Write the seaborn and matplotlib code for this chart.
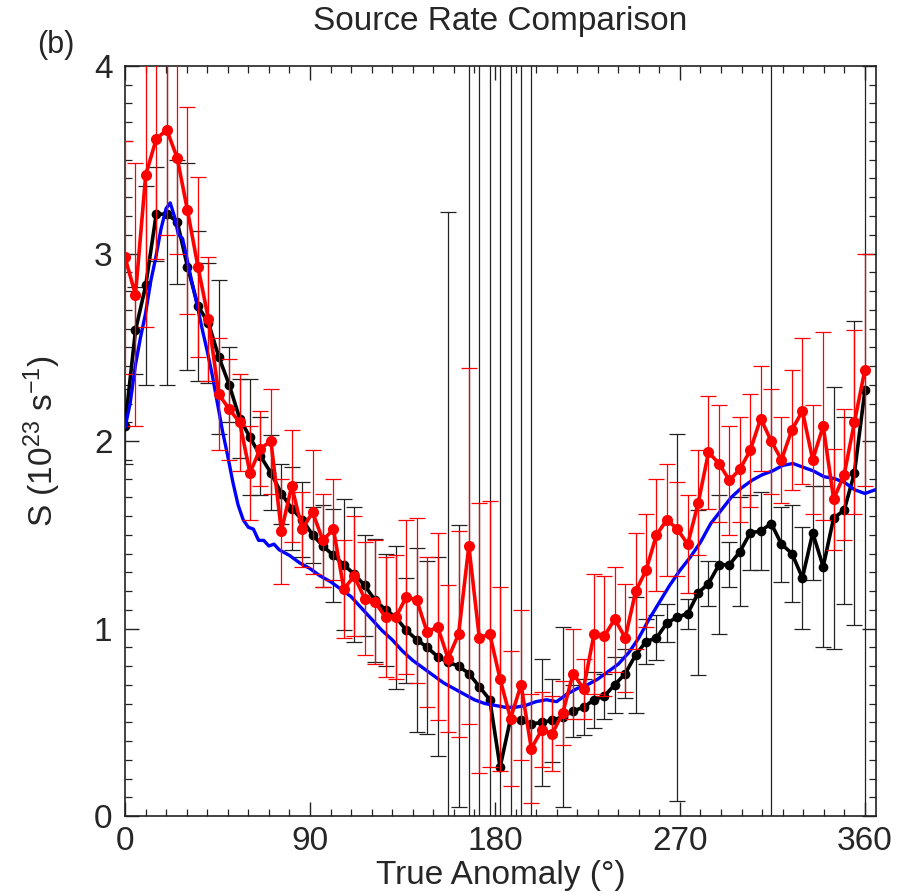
import numpy as np
import pandas as pd
import matplotlib
matplotlib.use("Agg")
import matplotlib.pyplot as plt
from matplotlib.ticker import MultipleLocator
import seaborn as sns

# ---------------- data ----------------
anomaly = [0.0, 5.1, 10.1, 15.2, 20.3, 25.4, 30.4, 35.5, 40.6, 45.6, 50.7, 55.8,
           60.8, 65.9, 71.0, 76.1, 81.1, 86.2, 91.3, 96.3, 101.4, 106.5, 111.5, 116.6,
           121.7, 126.8, 131.8, 136.9, 142.0, 147.0, 152.1, 157.2, 162.3, 167.3, 172.4, 177.5,
           182.5, 187.6, 192.7, 197.7, 202.8, 207.9, 213.0, 218.0, 223.1, 228.2, 233.2, 238.3,
           243.4, 248.5, 253.5, 258.6, 263.7, 268.7, 273.8, 278.9, 283.9, 289.0, 294.1, 299.2,
           304.2, 309.3, 314.4, 319.4, 324.5, 329.6, 334.6, 339.7, 344.8, 349.9, 354.9, 360.0]

black_s = [2.08, 2.59, 2.83, 3.21, 3.21, 3.17, 2.93, 2.72, 2.63, 2.45, 2.30, 2.12,
           2.02, 1.92, 1.83, 1.72, 1.64, 1.58, 1.50, 1.44, 1.39, 1.34, 1.29, 1.23,
           1.15, 1.10, 1.06, 0.99, 0.94, 0.90, 0.85, 0.82, 0.80, 0.76, 0.69, 0.62,
           0.26, 0.52, 0.51, 0.49, 0.50, 0.51, 0.53, 0.56, 0.58, 0.62, 0.64, 0.70,
           0.76, 0.86, 0.93, 0.95, 1.03, 1.06, 1.08, 1.19, 1.24, 1.34, 1.34, 1.41,
           1.51, 1.52, 1.56, 1.45, 1.40, 1.27, 1.51, 1.33, 1.59, 1.63, 1.83, 2.27]

black_err = [0.20, 0.23, 0.53, 0.25, 0.91, 0.33, 0.55, 0.40, 0.32, 0.41, 0.20, 0.21,
             0.31, 0.21, 0.20, 0.16, 0.22, 0.20, 0.15, 0.22, 0.25, 0.35, 0.36, 0.27,
             0.33, 0.30, 0.38, 0.28, 0.49, 0.46, 0.53, 2.40, 0.75, 5.00, 5.00, 5.00,
             5.00, 5.00, 5.00, 5.00, 0.34, 0.22, 0.48, 0.14, 0.15, 0.15, 0.12, 0.15,
             0.13, 0.31, 0.12, 0.12, 0.10, 0.98, 0.08, 0.44, 0.12, 0.37, 0.12, 0.29,
             0.20, 0.21, 5.00, 0.20, 0.26, 0.27, 0.25, 0.43, 0.70, 0.50, 0.81, 5.00]

red_s = [2.98, 2.78, 3.42, 3.61, 3.66, 3.51, 3.23, 2.93, 2.65, 2.25, 2.17, 2.10,
         1.83, 1.96, 2.00, 1.52, 1.76, 1.53, 1.62, 1.47, 1.53, 1.21, 1.28, 1.16,
         1.14, 1.06, 1.06, 1.17, 1.15, 0.98, 1.01, 0.84, 0.97, 1.44, 0.95, 0.97,
         0.73, 0.52, 0.70, 0.36, 0.46, 0.44, 0.55, 0.76, 0.68, 0.97, 0.96, 1.05,
         0.95, 1.20, 1.31, 1.50, 1.58, 1.53, 1.45, 1.67, 1.94, 1.88, 1.79, 1.85,
         1.95, 2.12, 2.00, 1.90, 2.06, 2.16, 1.90, 2.08, 1.69, 1.82, 2.10, 2.38]

red_err = [0.62, 0.70, 0.81, 0.64, 0.56, 0.51, 0.55, 0.48, 0.33, 0.30, 0.27, 0.26,
           0.25, 0.20, 0.28, 0.28, 0.30, 0.20, 0.33, 0.25, 0.27, 0.26, 0.32, 0.30,
           0.33, 0.32, 0.33, 0.41, 0.44, 0.40, 0.50, 0.39, 0.55, 0.95, 0.72, 0.71,
           0.49, 0.36, 0.40, 0.29, 0.20, 0.20, 0.17, 0.24, 0.16, 0.32, 0.32, 0.28,
           0.29, 0.31, 0.30, 0.30, 0.30, 0.25, 0.26, 0.28, 0.30, 0.31, 0.29, 0.28,
           0.30, 0.28, 0.28, 0.23, 0.32, 0.39, 0.29, 0.50, 0.27, 0.35, 0.49, 0.62]

model_anomaly = [0, 2.5, 5, 7.5, 10, 12.5, 15, 17.5, 20, 22, 24, 26, 28, 30, 32.5, 35,
                 37.5, 40, 42.5, 45, 47.5, 50, 52.5, 55, 57.5, 60, 62.5, 65, 67.5, 70,
                 72.5, 75, 80, 85, 90, 95, 100, 105, 110, 115, 120, 125, 130, 135, 140,
                 145, 150, 155, 160, 165, 170, 175, 180, 185, 190, 195, 200, 205, 210,
                 215, 220, 225, 230, 235, 240, 245, 250, 255, 260, 265, 270, 275, 280,
                 285, 290, 295, 300, 305, 310, 315, 320, 325, 330, 335, 340, 345, 350,
                 355, 360, 365]
model_s = [2.07, 2.20, 2.40, 2.55, 2.68, 2.85, 2.98, 3.13, 3.24, 3.27, 3.20, 3.10,
           3.08, 2.98, 2.85, 2.73, 2.60, 2.48, 2.35, 2.20, 2.05, 1.92, 1.78, 1.66,
           1.58, 1.54, 1.53, 1.47, 1.47, 1.44, 1.45, 1.42, 1.39, 1.35, 1.32, 1.28,
           1.25, 1.21, 1.17, 1.11, 1.05, 0.99, 0.94, 0.88, 0.83, 0.79, 0.75, 0.71,
           0.68, 0.65, 0.62, 0.60, 0.59, 0.58, 0.58, 0.59, 0.61, 0.62, 0.61, 0.65,
           0.68, 0.70, 0.73, 0.77, 0.81, 0.87, 0.95, 1.05, 1.14, 1.23, 1.31, 1.38,
           1.46, 1.56, 1.63, 1.70, 1.75, 1.79, 1.82, 1.84, 1.87, 1.88, 1.86, 1.84,
           1.81, 1.80, 1.78, 1.74, 1.72, 1.74]

x_ticks = [0, 90, 180, 270, 360]
y_ticks = [0, 1, 2, 3, 4]

# ---------------- style ----------------
sns.set_theme(style="ticks")
plt.rcParams["font.family"] = ["Liberation Sans", "DejaVu Sans"]
plt.rcParams["mathtext.fontset"] = "custom"
plt.rcParams["mathtext.rm"] = "Liberation Sans"
plt.rcParams["mathtext.default"] = "regular"

fig = plt.figure(figsize=(9.17, 8.93), dpi=100)
ax = fig.add_axes([0.1363, 0.0862, 0.819, 0.8399])

obs = pd.DataFrame({"anomaly": anomaly, "black": black_s, "black_err": black_err,
                    "red": red_s, "red_err": red_err})
model = pd.DataFrame({"anomaly": model_anomaly, "S": model_s})

# black series
ax.errorbar(obs["anomaly"], obs["black"], yerr=obs["black_err"], fmt="none",
            ecolor="#222222", elinewidth=0.9, capsize=5.5, capthick=0.9, zorder=2)
sns.lineplot(data=obs, x="anomaly", y="black", ax=ax, color="black", lw=2.6,
             marker="o", markersize=7, markeredgewidth=0, zorder=3)

# blue model curve
sns.lineplot(data=model, x="anomaly", y="S", ax=ax, color="#0000ff", lw=2.4, zorder=4)

# red series
ax.errorbar(obs["anomaly"], obs["red"], yerr=obs["red_err"], fmt="none",
            ecolor="#ff0000", elinewidth=0.9, capsize=5.5, capthick=0.9, zorder=5)
sns.lineplot(data=obs, x="anomaly", y="red", ax=ax, color="#ff0000", lw=2.6,
             marker="o", markersize=8, markeredgewidth=0, zorder=6)

ax.set_xlim(0, 365.4)
ax.set_ylim(0, 4)
ax.set_xticks(x_ticks)
ax.set_yticks(y_ticks)
ax.xaxis.set_minor_locator(MultipleLocator(10))
ax.yaxis.set_minor_locator(MultipleLocator(0.1))
ax.tick_params(which="both", direction="in", top=True, right=True,
               labelsize=24, color="#222222")
ax.tick_params(which="major", length=10, width=1.0)
ax.tick_params(which="minor", length=5, width=0.9)
ax.tick_params(axis="x", pad=7)
ax.tick_params(axis="y", pad=9)
for sp in ax.spines.values():
    sp.set_linewidth(1.2)
    sp.set_color("#222222")
    sp.set_visible(True)

ax.set_xlabel("True Anomaly (°)", fontsize=24, labelpad=2)
ax.set_ylabel("S (10$^{23}$ s$^{-1}$)", fontsize=24, labelpad=22)
ax.set_title("Source Rate Comparison", fontsize=24, pad=26)
fig.text(0.041, 0.950, "(b)", fontsize=22, ha="left", va="center")

fig.savefig("out.png", dpi=100)
